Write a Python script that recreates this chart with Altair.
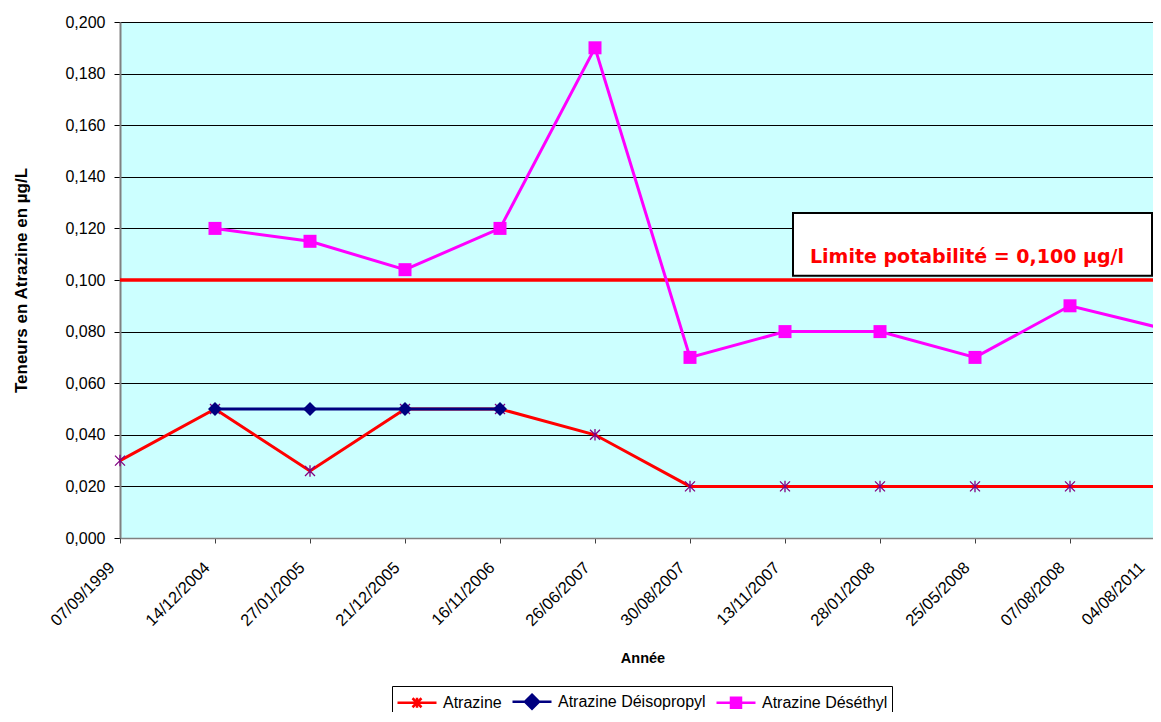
import altair as alt
import pandas as pd

dates = ["07/09/1999", "14/12/2004", "27/01/2005", "21/12/2005", "16/11/2006",
         "26/06/2007", "30/08/2007", "13/11/2007", "28/01/2008", "25/05/2008",
         "07/08/2008", "04/08/2011"]
atrazine = [0.030, 0.050, 0.026, 0.050, 0.050, 0.040, 0.020, 0.020, 0.020, 0.020, 0.020, 0.020]
deisopropyl = [None, 0.050, 0.050, 0.050, 0.050, None, None, None, None, None, None, None]
desethyl = [None, 0.120, 0.115, 0.104, 0.120, 0.190, 0.070, 0.080, 0.080, 0.070, 0.090, 0.081]

series_names = ["Atrazine", "Atrazine Déisopropyl", "Atrazine Déséthyl"]
line_colors = ["#FF0000", "#000080", "#FF00FF"]
marker_strokes = ["#800080", "#000080", "#FF00FF"]
marker_fills = ["transparent", "#000080", "#FF00FF"]
asterisk = "M-1,-1L1,1M-1,1L1,-1M0,-1.15L0,1.15"
marker_shapes = [asterisk, "diamond", "square"]
marker_sizes = [100, 196, 169]
legend_shapes = [
    "M-1.95,0L1.95,0M-0.45,-0.45L0.45,0.45M-0.45,0.45L0.45,-0.45M0,-0.5L0,0.5",
    "M-1.95,0L1.95,0M0,-0.7L0.7,0L0,0.7L-0.7,0Z",
    "M-1.95,0L1.95,0M-0.5,-0.5L0.5,-0.5L0.5,0.5L-0.5,0.5Z",
]
y_ticks = [0.0, 0.02, 0.04, 0.06, 0.08, 0.10, 0.12, 0.14, 0.16, 0.18, 0.20]
limit_value = 0.100
limit_label = "Limite potabilité = 0,100 µg/l"
y_title = "Teneurs en Atrazine en µg/L"
x_title = "Année"

rows = []
for name, vals in zip(series_names, [atrazine, deisopropyl, desethyl]):
    for i, (d, v) in enumerate(zip(dates, vals)):
        if v is not None:
            rows.append({"date": d, "idx": i, "series": name, "value": v})
df = pd.DataFrame(rows)

FONT = "Liberation Sans"


def make_x(label_offset):
    return alt.X(
        "date:N",
        scale=alt.Scale(type="point", padding=0, domain=dates, range=[0, 1045]),
        axis=alt.Axis(
            title=x_title, labelAngle=-45, labelFont=FONT, labelFontSize=16.5,
            labelColor="#000000", labelPadding=16, labelOffset=label_offset,
            tickColor="#404040", tickSize=5, domainColor="#808080", domainWidth=1.5,
            titleFont=FONT, titleFontSize=14.5, titleFontWeight="bold", titleColor="#000000",
            titlePadding=22, grid=False,
        ),
    )


y_scale = alt.Scale(domain=[0, 0.2], nice=False, zero=True)
y_enc = alt.Y(
    "value:Q",
    scale=y_scale,
    axis=alt.Axis(
        title=y_title, values=y_ticks,
        labelExpr="replace(format(datum.value, '.3f'), '.', ',')",
        labelFont=FONT, labelFontSize=16, labelColor="#000000", labelPadding=9,
        tickColor="#000000", tickSize=6, domainColor="#808080", domainWidth=2,
        grid=True, gridColor="#000000", gridWidth=1, gridOpacity=1,
        titleFont=FONT, titleFontSize=17, titleFontWeight="bold", titleColor="#000000",
        titlePadding=34,
    ),
)

limit_rule = alt.Chart(pd.DataFrame({"v": [limit_value]})).mark_rule(
    color="#FF0000", strokeWidth=3.5
).encode(y=alt.Y("v:Q", scale=y_scale))

box = alt.Chart(pd.DataFrame({"top": [0.126], "bottom": [0.1016]})).mark_rect(
    fill="#FFFFFF", stroke="#000000", strokeWidth=2
).encode(
    x=alt.value(673), x2=alt.value(1032),
    y=alt.Y("top:Q", scale=y_scale), y2="bottom:Q",
)

label = alt.Chart(pd.DataFrame({"v": [0.109], "t": [limit_label]})).mark_text(
    align="left", baseline="middle", font="DejaVu Sans", fontSize=19, fontWeight="bold", color="#FF0000"
).encode(
    x=alt.value(690), y=alt.Y("v:Q", scale=y_scale), text="t:N"
)


def build(label_offset):
    x_enc = make_x(label_offset)
    base = alt.Chart(df)
    lines = base.mark_line(strokeWidth=3).encode(
        x=x_enc,
        y=y_enc,
        color=alt.Color(
            "series:N",
            scale=alt.Scale(domain=series_names, range=line_colors),
            legend=alt.Legend(
                title=None, orient="none", legendX=272, legendY=664, direction="horizontal",
                symbolSize=400, symbolStrokeWidth=2.5, symbolOffset=9.5, labelOffset=14.5,
                columnPadding=5, padding=4, labelFont=FONT, labelFontSize=16,
                labelColor="#000000", strokeColor="#000000", fillColor="#FFFFFF",
            ),
        ),
        order=alt.Order("idx:Q"),
    )
    point_layers = []
    for name, shp, stk, fil, sz in zip(series_names, marker_shapes, marker_strokes, marker_fills, marker_sizes):
        if fil != "transparent":
            mk = base.mark_point(shape=shp, filled=True, color=fil, size=sz, opacity=1, strokeWidth=0)
        else:
            mk = base.mark_point(shape=shp, filled=False, stroke=stk, size=sz, opacity=1, strokeWidth=1.3)
        point_layers.append(mk.encode(x=x_enc, y=y_enc).transform_filter(alt.datum.series == name))
    legend_layer = base.mark_point(opacity=1).encode(
        x=x_enc,
        y=y_enc,
        shape=alt.Shape("series:N", scale=alt.Scale(domain=series_names, range=legend_shapes), legend=None),
        fill=alt.Fill("series:N", scale=alt.Scale(domain=series_names, range=marker_fills), legend=None),
    ).transform_filter("false")
    ch = alt.layer(limit_rule, lines, *point_layers, legend_layer, box, label).properties(
        width=1033, height=516,
        autosize=alt.AutoSizeParams(type="none"),
        padding={"left": 112, "top": 14, "right": 0, "bottom": 174},
        background="#FFFFFF",
    ).configure_view(
        fill="#CCFFFF", stroke="transparent"
    )
    ch.to_dict()
    return ch


chart = None
for lo in [{"condition": {"test": "datum.value === '04/08/2011'", "value": -29}, "value": -14}, -16]:
    try:
        chart = build(lo)
        break
    except Exception:
        continue

chart.save("out.html", embed_options={"renderer": "svg", "actions": False})
